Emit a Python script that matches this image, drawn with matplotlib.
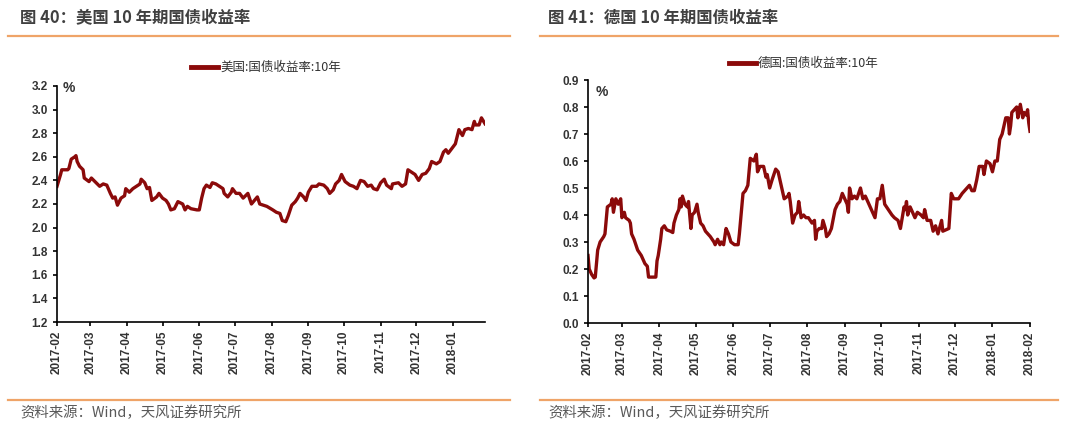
import matplotlib
matplotlib.use("Agg")
import matplotlib.pyplot as plt
import matplotlib.dates as mdates
import numpy as np
import pandas as pd

plt.rcParams['font.family'] = ['Liberation Sans', 'Noto Sans CJK SC', 'DejaVu Sans']

# 美国 10 年期国债收益率 (%)
us_dates = [
    '2017-02-01', '2017-02-04', '2017-02-05', '2017-02-10', '2017-02-11', '2017-02-13',
    '2017-02-16', '2017-02-17', '2017-02-18', '2017-02-20', '2017-02-23', '2017-02-24',
    '2017-02-28', '2017-03-02', '2017-03-05', '2017-03-09', '2017-03-12', '2017-03-15',
    '2017-03-18', '2017-03-20', '2017-03-22', '2017-03-24', '2017-03-27', '2017-03-30',
    '2017-03-31', '2017-04-03', '2017-04-06', '2017-04-09', '2017-04-12', '2017-04-13',
    '2017-04-16', '2017-04-18', '2017-04-20', '2017-04-22', '2017-04-26', '2017-04-28',
    '2017-05-01', '2017-05-04', '2017-05-06', '2017-05-08', '2017-05-11', '2017-05-14',
    '2017-05-18', '2017-05-20', '2017-05-22', '2017-05-25', '2017-05-30', '2017-06-01',
    '2017-06-03', '2017-06-05', '2017-06-07', '2017-06-10', '2017-06-12', '2017-06-15',
    '2017-06-18', '2017-06-21', '2017-06-22', '2017-06-25', '2017-06-28', '2017-06-29',
    '2017-07-02', '2017-07-05', '2017-07-08', '2017-07-11', '2017-07-12', '2017-07-15',
    '2017-07-20', '2017-07-22', '2017-07-25', '2017-07-28', '2017-08-02', '2017-08-05',
    '2017-08-08', '2017-08-10', '2017-08-13', '2017-08-15', '2017-08-18', '2017-08-21',
    '2017-08-23', '2017-08-25', '2017-08-28', '2017-08-30', '2017-09-01', '2017-09-04',
    '2017-09-08', '2017-09-10', '2017-09-14', '2017-09-17', '2017-09-19', '2017-09-22',
    '2017-09-24', '2017-09-27', '2017-09-29', '2017-10-02', '2017-10-06', '2017-10-09',
    '2017-10-12', '2017-10-15', '2017-10-18', '2017-10-21', '2017-10-24', '2017-10-26',
    '2017-10-29', '2017-11-01', '2017-11-04', '2017-11-06', '2017-11-10', '2017-11-11',
    '2017-11-16', '2017-11-19', '2017-11-22', '2017-11-24', '2017-11-27', '2017-11-30',
    '2017-12-03', '2017-12-06', '2017-12-09', '2017-12-12', '2017-12-14', '2017-12-18',
    '2017-12-21', '2017-12-24', '2017-12-26', '2017-12-28', '2017-12-31', '2018-01-03',
    '2018-01-06', '2018-01-09', '2018-01-11', '2018-01-14', '2018-01-17', '2018-01-19',
    '2018-01-20', '2018-01-23', '2018-01-25', '2018-01-28',
]
us_yield = [
    2.35, 2.45, 2.49, 2.49, 2.50, 2.58,
    2.60, 2.61, 2.56, 2.52, 2.49, 2.42,
    2.39, 2.42, 2.39, 2.35, 2.37, 2.36,
    2.29, 2.25, 2.26, 2.19, 2.25, 2.27,
    2.33, 2.30, 2.33, 2.35, 2.37, 2.41,
    2.38, 2.33, 2.34, 2.23, 2.26, 2.29,
    2.25, 2.23, 2.20, 2.15, 2.16, 2.22,
    2.20, 2.15, 2.18, 2.16, 2.15, 2.15,
    2.25, 2.33, 2.36, 2.34, 2.38, 2.37,
    2.35, 2.33, 2.29, 2.26, 2.30, 2.33,
    2.29, 2.29, 2.25, 2.28, 2.29, 2.20,
    2.26, 2.20, 2.19, 2.18, 2.15, 2.13,
    2.12, 2.06, 2.05, 2.10, 2.19, 2.22,
    2.25, 2.29, 2.26, 2.23, 2.30, 2.35,
    2.35, 2.37, 2.36, 2.33, 2.29, 2.32,
    2.37, 2.40, 2.45, 2.39, 2.36, 2.35,
    2.33, 2.40, 2.39, 2.35, 2.36, 2.33,
    2.32, 2.38, 2.41, 2.36, 2.33, 2.37,
    2.38, 2.35, 2.37, 2.49, 2.47, 2.45,
    2.40, 2.45, 2.46, 2.50, 2.56, 2.54,
    2.56, 2.64, 2.66, 2.63, 2.67, 2.71,
    2.83, 2.78, 2.83, 2.84, 2.83, 2.90,
    2.87, 2.87, 2.93, 2.88,
]

# 德国 10 年期国债收益率 (%)
de_dates = [
    '2017-02-01', '2017-02-02', '2017-02-04', '2017-02-06', '2017-02-07', '2017-02-09',
    '2017-02-11', '2017-02-14', '2017-02-15', '2017-02-17', '2017-02-20', '2017-02-21',
    '2017-02-22', '2017-02-24', '2017-02-26', '2017-02-28', '2017-03-01', '2017-03-03',
    '2017-03-04', '2017-03-07', '2017-03-08', '2017-03-09', '2017-03-11', '2017-03-14',
    '2017-03-17', '2017-03-20', '2017-03-22', '2017-03-23', '2017-03-29', '2017-03-30',
    '2017-03-31', '2017-04-02', '2017-04-03', '2017-04-05', '2017-04-07', '2017-04-10',
    '2017-04-12', '2017-04-13', '2017-04-15', '2017-04-17', '2017-04-18', '2017-04-19',
    '2017-04-20', '2017-04-22', '2017-04-24', '2017-04-25', '2017-04-27', '2017-04-28',
    '2017-04-30', '2017-05-02', '2017-05-03', '2017-05-05', '2017-05-07', '2017-05-09',
    '2017-05-11', '2017-05-13', '2017-05-16', '2017-05-17', '2017-05-19', '2017-05-21',
    '2017-05-22', '2017-05-24', '2017-05-26', '2017-05-28', '2017-05-30', '2017-06-02',
    '2017-06-05', '2017-06-06', '2017-06-09', '2017-06-11', '2017-06-13', '2017-06-15',
    '2017-06-18', '2017-06-20', '2017-06-21', '2017-06-23', '2017-06-26', '2017-06-28',
    '2017-06-29', '2017-07-01', '2017-07-03', '2017-07-06', '2017-07-08', '2017-07-10',
    '2017-07-13', '2017-07-16', '2017-07-17', '2017-07-18', '2017-07-20', '2017-07-22',
    '2017-07-24', '2017-07-25', '2017-07-27', '2017-07-29', '2017-07-31', '2017-08-02',
    '2017-08-05', '2017-08-07', '2017-08-08', '2017-08-09', '2017-08-11', '2017-08-13',
    '2017-08-14', '2017-08-16', '2017-08-17', '2017-08-19', '2017-08-21', '2017-08-24',
    '2017-08-26', '2017-08-28', '2017-08-30', '2017-09-03', '2017-09-04', '2017-09-05',
    '2017-09-07', '2017-09-09', '2017-09-11', '2017-09-14', '2017-09-16', '2017-09-18',
    '2017-09-21', '2017-09-24', '2017-09-26', '2017-09-28', '2017-09-30', '2017-10-02',
    '2017-10-04', '2017-10-07', '2017-10-10', '2017-10-12', '2017-10-15', '2017-10-17',
    '2017-10-20', '2017-10-21', '2017-10-22', '2017-10-23', '2017-10-25', '2017-10-27',
    '2017-10-29', '2017-10-31', '2017-11-03', '2017-11-05', '2017-11-06', '2017-11-08',
    '2017-11-11', '2017-11-13', '2017-11-15', '2017-11-17', '2017-11-20', '2017-11-21',
    '2017-11-26', '2017-11-28', '2017-11-30', '2017-12-04', '2017-12-07', '2017-12-09',
    '2017-12-11', '2017-12-13', '2017-12-15', '2017-12-17', '2017-12-19', '2017-12-21',
    '2017-12-24', '2017-12-25', '2017-12-27', '2017-12-30', '2018-01-01', '2018-01-03',
    '2018-01-05', '2018-01-07', '2018-01-09', '2018-01-12', '2018-01-14', '2018-01-15',
    '2018-01-16', '2018-01-17', '2018-01-19', '2018-01-21', '2018-01-22', '2018-01-24',
    '2018-01-26', '2018-01-27', '2018-01-29', '2018-01-30', '2018-01-31', '2018-02-01',
]
de_yield = [
    0.25, 0.20, 0.18, 0.167, 0.17, 0.27,
    0.30, 0.32, 0.33, 0.43, 0.44, 0.46,
    0.41, 0.46, 0.44, 0.46, 0.39, 0.41,
    0.39, 0.38, 0.37, 0.33, 0.31, 0.27,
    0.25, 0.22, 0.21, 0.17, 0.17, 0.23,
    0.25, 0.31, 0.35, 0.36, 0.345, 0.34,
    0.335, 0.37, 0.40, 0.42, 0.46, 0.43,
    0.47, 0.44, 0.43, 0.45, 0.35, 0.40,
    0.41, 0.44, 0.41, 0.37, 0.36, 0.34,
    0.33, 0.32, 0.30, 0.29, 0.31, 0.29,
    0.30, 0.29, 0.35, 0.33, 0.30, 0.29,
    0.29, 0.33, 0.48, 0.49, 0.51, 0.61,
    0.60, 0.625, 0.56, 0.58, 0.58, 0.54,
    0.55, 0.50, 0.53, 0.57, 0.56, 0.52,
    0.46, 0.47, 0.48, 0.45, 0.37, 0.40,
    0.41, 0.45, 0.39, 0.40, 0.39, 0.39,
    0.37, 0.38, 0.31, 0.34, 0.35, 0.35,
    0.38, 0.35, 0.32, 0.33, 0.35, 0.42,
    0.44, 0.45, 0.48, 0.44, 0.41, 0.50,
    0.46, 0.47, 0.46, 0.50, 0.46, 0.47,
    0.44, 0.41, 0.39, 0.46, 0.46, 0.51,
    0.44, 0.42, 0.40, 0.39, 0.38, 0.35,
    0.43, 0.42, 0.45, 0.40, 0.43, 0.41,
    0.39, 0.41, 0.40, 0.39, 0.42, 0.38,
    0.38, 0.34, 0.36, 0.33, 0.38, 0.34,
    0.35, 0.48, 0.46, 0.46, 0.48, 0.49,
    0.50, 0.51, 0.49, 0.49, 0.53, 0.58,
    0.58, 0.55, 0.60, 0.59, 0.56, 0.60,
    0.60, 0.68, 0.70, 0.76, 0.76, 0.70,
    0.73, 0.78, 0.79, 0.80, 0.76, 0.81,
    0.76, 0.78, 0.77, 0.79, 0.74, 0.71,
]

us_ticks = np.round(np.arange(1.2, 3.21, 0.2), 1)
de_ticks = np.round(np.arange(0.0, 0.91, 0.1), 1)

line_color = '#8B0A0A'
orange = '#EFA468'
grey = '#595959'
cjk = ['Noto Sans CJK SC', 'DejaVu Sans']

fig = plt.figure(figsize=(10.8, 4.44), dpi=100)

panels = [
    dict(rect=[57/1080, 1-322/444, 428/1080, 236/444], dates=us_dates, vals=us_yield,
         ticks=us_ticks, ylim=(1.2, 3.2), xend='2018-01-28',
         title='图 40：美国 10 年期国债收益率', label='美国:国债收益率:10年',
         x0=8, x1=510, tx=20, pct=(63, 88), leg_y=67),
    dict(rect=[588/1080, 1-323/444, 442/1080, 243/444], dates=de_dates, vals=de_yield,
         ticks=de_ticks, ylim=(0.0, 0.9), xend='2018-02-01',
         title='图 41：德国 10 年期国债收益率', label='德国:国债收益率:10年',
         x0=540, x1=1058, tx=548, pct=(596, 92), leg_y=63),
]

for p in panels:
    ax = fig.add_axes(p['rect'])
    d = pd.to_datetime(p['dates'])
    ax.plot(d, p['vals'], color=line_color, lw=2.4, solid_joinstyle='round')
    ax.set_xlim(pd.Timestamp('2017-02-01'), pd.Timestamp(p['xend']))
    ax.set_ylim(*p['ylim'])
    ax.set_yticks(p['ticks'])
    ax.set_yticklabels([f'{t:.1f}' for t in p['ticks']])
    ax.xaxis.set_major_locator(mdates.MonthLocator())
    ax.xaxis.set_major_formatter(mdates.DateFormatter('%Y-%m'))
    for s in ['top', 'right']:
        ax.spines[s].set_visible(False)
    for s in ['left', 'bottom']:
        ax.spines[s].set_linewidth(1.2)
        ax.spines[s].set_color('black')
    ax.tick_params(axis='both', direction='out', length=3, width=1.2, colors='black',
                   labelcolor='#333333', labelsize=8.5)
    ax.tick_params(axis='x', pad=3)
    for lab in ax.get_xticklabels():
        lab.set_rotation(90)
        lab.set_fontweight('bold')
    for lab in ax.get_yticklabels():
        lab.set_fontweight('bold')
    ax.patch.set_visible(False)

    # % unit label
    fig.text(p['pct'][0]/1080, 1-p['pct'][1]/444, '%', fontsize=10, fontweight='bold',
             color='#333333', va='center', ha='left')

    # legend drawn as a short line plus text
    cx = (p['rect'][0] + p['rect'][2]/2)
    ly = 1 - p['leg_y']/444
    fig.add_artist(plt.Line2D([cx - 80/1080, cx - 53/1080], [ly, ly], color=line_color,
                              lw=3.5, transform=fig.transFigure))
    fig.text(cx - 51/1080, ly, p['label'], fontsize=9, color='#333333', va='center',
             ha='left', family=cjk)

    # header / footer
    fig.text(p['tx']/1080, 1-18/444, p['title'], fontsize=11.8, fontweight='bold',
             color='#404040', va='center', ha='left', family=cjk)
    for yy in (36, 400):
        fig.add_artist(plt.Line2D([p['x0']/1080, p['x1']/1080], [1-yy/444, 1-yy/444],
                                  color=orange, lw=1.6, transform=fig.transFigure))
    fig.text(p['tx']/1080, 1-413/444, '资料来源：Wind，天风证券研究所', fontsize=10.4,
             color=grey, va='center', ha='left', family=cjk)

fig.savefig('out.png', dpi=100, facecolor='white')
